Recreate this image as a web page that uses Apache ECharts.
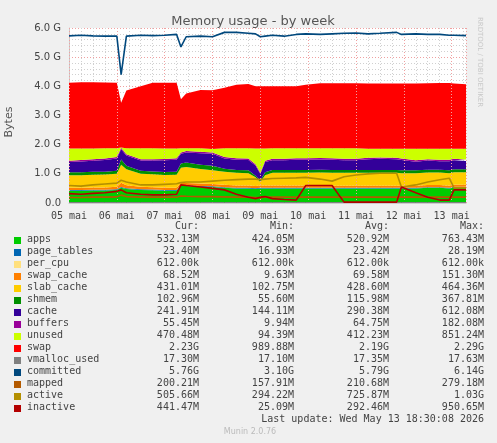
<!DOCTYPE html>
<html><head><meta charset="utf-8">
<script src="https://cdn.jsdelivr.net/npm/echarts@6/dist/echarts.min.js"></script>
<style>html,body{margin:0;padding:0;background:#F0F0F0}#c{width:497px;height:443px}</style>
</head><body><div id="c"></div>
<script>
const dayLabels = ['05 mai','06 mai','07 mai','08 mai','09 mai','10 mai','11 mai','12 mai','13 mai'];
const T = [0,0.25,0.5,0.75,1.0,1.09,1.2,1.5,1.75,2.0,2.25,2.34,2.45,2.75,3.0,3.25,3.5,3.75,3.9,4.0,4.1,4.25,4.5,4.75,4.95,5.25,5.5,5.75,6.0,6.25,6.5,6.85,6.95,7.25,7.5,7.75,7.95,8.05,8.3];
const apps = [0.42,0.42,0.43,0.43,0.45,0.52,0.48,0.45,0.44,0.42,0.42,0.6,0.58,0.56,0.55,0.52,0.5,0.5,0.48,0.5,0.5,0.5,0.5,0.5,0.5,0.5,0.5,0.5,0.5,0.5,0.5,0.5,0.5,0.5,0.52,0.52,0.5,0.53,0.53];
const page_tables = [0.022,0.022,0.022,0.023,0.023,0.025,0.024,0.023,0.023,0.022,0.022,0.025,0.024,0.024,0.024,0.023,0.023,0.023,0.022,0.02,0.022,0.023,0.023,0.023,0.023,0.023,0.023,0.023,0.023,0.023,0.023,0.023,0.023,0.023,0.023,0.023,0.023,0.023,0.023];
const per_cpu = [0.0006,0.0006,0.0006,0.0006,0.0006,0.0006,0.0006,0.0006,0.0006,0.0006,0.0006,0.0006,0.0006,0.0006,0.0006,0.0006,0.0006,0.0006,0.0006,0.0006,0.0006,0.0006,0.0006,0.0006,0.0006,0.0006,0.0006,0.0006,0.0006,0.0006,0.0006,0.0006,0.0006,0.0006,0.0006,0.0006,0.0006,0.0006,0.0006];
const swap_cache = [0.08,0.08,0.08,0.08,0.08,0.15,0.1,0.08,0.08,0.08,0.08,0.08,0.08,0.08,0.08,0.08,0.08,0.08,0.08,0.08,0.08,0.08,0.08,0.08,0.08,0.08,0.07,0.07,0.07,0.07,0.07,0.07,0.07,0.07,0.07,0.07,0.07,0.07,0.07];
const slab_cache = [0.43,0.43,0.44,0.44,0.45,0.62,0.55,0.45,0.44,0.44,0.45,0.5,0.55,0.5,0.47,0.45,0.43,0.42,0.3,0.12,0.35,0.43,0.43,0.43,0.43,0.44,0.44,0.44,0.44,0.44,0.44,0.44,0.43,0.43,0.43,0.43,0.43,0.43,0.43];
const shmem = [0.1,0.1,0.1,0.1,0.1,0.18,0.12,0.1,0.1,0.1,0.1,0.15,0.15,0.15,0.15,0.1,0.1,0.1,0.05,0.05,0.1,0.1,0.1,0.1,0.1,0.1,0.1,0.1,0.1,0.1,0.1,0.1,0.1,0.1,0.1,0.1,0.1,0.1,0.1];
const cache = [0.35,0.37,0.38,0.4,0.42,0.35,0.35,0.35,0.37,0.4,0.41,0.33,0.35,0.39,0.41,0.35,0.35,0.35,0.35,0.22,0.35,0.33,0.33,0.35,0.35,0.35,0.35,0.33,0.33,0.37,0.38,0.37,0.35,0.29,0.31,0.29,0.31,0.31,0.29];
const buffers = [0.05,0.05,0.05,0.05,0.05,0.05,0.05,0.05,0.05,0.05,0.05,0.05,0.05,0.05,0.05,0.05,0.05,0.05,0.05,0.05,0.05,0.05,0.05,0.05,0.05,0.05,0.05,0.05,0.05,0.05,0.05,0.05,0.05,0.05,0.05,0.05,0.05,0.05,0.05];
const unused = [0.42,0.40,0.37,0.35,0.30,0.01,0.20,0.37,0.37,0.36,0.34,0.14,0.09,0.12,0.12,0.30,0.34,0.35,0.54,0.83,0.42,0.36,0.36,0.34,0.34,0.33,0.34,0.36,0.36,0.31,0.30,0.31,0.34,0.40,0.36,0.38,0.38,0.35,0.37];
const swap = [2.25,2.27,2.27,2.26,2.25,1.53,1.98,2.13,2.25,2.25,2.25,1.68,1.88,2.0,2.01,2.08,2.18,2.21,2.13,2.13,2.13,2.13,2.13,2.13,2.18,2.23,2.23,2.23,2.23,2.23,2.23,2.23,2.23,2.23,2.24,2.25,2.25,2.23,2.21];
const vmalloc_used = [0.017,0.017,0.017,0.017,0.017,0.017,0.017,0.017,0.017,0.017,0.017,0.017,0.017,0.017,0.017,0.017,0.017,0.017,0.017,0.017,0.017,0.017,0.017,0.017,0.017,0.017,0.017,0.017,0.017,0.017,0.017,0.017,0.017,0.017,0.017,0.017,0.017,0.017,0.017];
const committed = [5.73,5.75,5.73,5.72,5.72,4.4,5.72,5.75,5.74,5.75,5.78,5.35,5.7,5.72,5.7,5.85,5.85,5.82,5.8,5.7,5.72,5.75,5.72,5.78,5.8,5.78,5.8,5.82,5.83,5.8,5.82,5.85,5.78,5.8,5.78,5.78,5.75,5.75,5.74];
const mapped = [0.19,0.19,0.2,0.2,0.21,0.27,0.22,0.2,0.2,0.2,0.2,0.24,0.23,0.22,0.22,0.21,0.2,0.2,0.19,0.18,0.2,0.2,0.2,0.2,0.2,0.2,0.2,0.2,0.2,0.2,0.2,0.2,0.2,0.2,0.2,0.2,0.2,0.2,0.2];
const active = [0.6,0.58,0.62,0.65,0.68,0.78,0.72,0.62,0.62,0.64,0.66,0.7,0.72,0.72,0.75,0.78,0.8,0.82,0.82,0.8,0.82,0.84,0.85,0.86,0.88,0.82,0.75,0.9,0.96,1.0,1.02,1.02,0.55,0.62,0.72,0.8,0.85,0.52,0.52];
const inactive = [0.32,0.3,0.33,0.35,0.4,0.45,0.35,0.3,0.28,0.28,0.3,0.62,0.6,0.55,0.5,0.45,0.3,0.2,0.15,0.2,0.22,0.15,0.12,0.1,0.6,0.6,0.6,0.03,0.03,0.03,0.03,0.03,0.55,0.35,0.2,0.1,0.1,0.45,0.45];

const names = ['apps','page_tables','per_cpu','swap_cache','slab_cache','shmem','cache','buffers','unused','swap','vmalloc_used','committed','mapped','active','inactive'];
const colors = ['#00CC00','#0066B3','#FFE07F','#FF8000','#FFCC00','#008F00','#330099','#990099','#CCFF00','#FF0000','#808080','#00487D','#B35A00','#B38F00','#B30000'];
const curV = ['532.13M','23.40M','612.00k','68.52M','431.01M','102.96M','241.91M','55.45M','470.48M','2.23G','17.30M','5.76G','200.21M','505.66M','441.47M'];
const minV = ['424.05M','16.93M','612.00k','9.63M','102.75M','55.60M','144.11M','9.94M','94.39M','989.88M','17.10M','3.10G','157.91M','294.22M','25.09M'];
const avgV = ['520.92M','23.42M','612.00k','69.58M','428.60M','115.98M','290.38M','64.75M','412.23M','2.19G','17.35M','5.79G','210.68M','725.87M','292.46M'];
const maxV = ['763.43M','28.19M','612.00k','151.30M','464.36M','367.81M','612.08M','182.08M','851.24M','2.29G','17.63M','6.14G','279.18M','1.03G','950.65M'];

const DAY = 86400000, T0 = Date.UTC(2026,4,5);
const vals = [apps,page_tables,per_cpu,swap_cache,slab_cache,shmem,cache,buffers,unused,swap,vmalloc_used,committed,mapped,active,inactive];
const series = names.map((n,i)=>{
  const d = T.map((t,k)=>[T0+t*DAY,vals[i][k]]);
  if(i<10) return {name:n,type:'line',stack:'mem',data:d,symbol:'none',lineStyle:{width:0},areaStyle:{color:colors[i],opacity:1},itemStyle:{color:colors[i]},z:2};
  return {name:n,type:'line',data:d,symbol:'none',lineStyle:{width:n==='vmalloc_used'?1:1.6,color:colors[i]},itemStyle:{color:colors[i]},z:3};
});

const mono = 'DejaVu Sans Mono';
const g = [];
const hdrY = 227, cols=[199,294,389,484], hdr=['Cur:','Min:','Avg:','Max:'];
hdr.forEach((h,j)=>g.push({type:'text',x:cols[j],y:hdrY-6,style:{text:h,font:'10px '+mono,fill:'#444',align:'right'}}));
names.forEach((n,i)=>{
  const y = 240+12*i;
  g.push({type:'rect',shape:{x:14,y:y-3,width:7,height:7},style:{fill:colors[i]}});
  g.push({type:'text',x:27,y:y-6,style:{text:n,font:'10px '+mono,fill:'#444'}});
  [curV,minV,avgV,maxV].forEach((arr,j)=>g.push({type:'text',x:cols[j],y:y-6,style:{text:arr[i],font:'10px '+mono,fill:'#444',align:'right'}}));
});
g.push({type:'text',x:484,y:414,style:{text:'Last update: Wed May 13 18:30:08 2026',font:'10px '+mono,fill:'#444',align:'right'}});
g.push({type:'text',x:250,y:428,style:{text:'Munin 2.0.76',font:'8px DejaVu Sans',fill:'#bbb',align:'center'}});
g.push({type:'text',x:4,y:122,rotation:Math.PI/2,style:{text:'Bytes',font:'11px DejaVu Sans',fill:'#555',align:'center'}});
g.push({type:'text',x:483,y:62,rotation:-Math.PI/2,style:{text:'RRDTOOL / TOBI OETIKER',font:'7px DejaVu Sans',fill:'#c8c8c8',align:'center'}});

const chart = echarts.init(document.getElementById('c'),null,{renderer:'canvas'});
chart.setOption({
  backgroundColor:'#F0F0F0',animation:false,
  title:{text:'Memory usage - by week',left:248,top:10,textAlign:'center',textStyle:{fontFamily:'DejaVu Sans',fontSize:13,fontWeight:'normal',color:'#555'}},
  grid:{left:69,right:31,top:28,bottom:240,backgroundColor:'#fff',show:true,borderWidth:0},
  xAxis:[{type:'time',min:T0,max:T0+8.3*DAY,interval:DAY,z:3,
    axisLine:{lineStyle:{color:'#ccc'}},axisTick:{show:false},
    axisLabel:{formatter:v=>dayLabels[Math.round((v-T0)/DAY)]||'',fontFamily:mono,fontSize:10,color:'#444',showMaxLabel:false,showMinLabel:true},
    splitLine:{show:true,lineStyle:{color:'#f0a0a0',type:[1,2],width:1}}},
   {type:'value',min:0,max:8.3,interval:0.25,position:'bottom',z:0,
    axisLine:{show:false},axisTick:{show:false},axisLabel:{show:false},
    splitLine:{show:true,lineStyle:{color:'#d0d0d0',type:[1,2],width:1}}}],
  yAxis:{type:'value',min:0,max:6,interval:1,
    axisLine:{show:true,lineStyle:{color:'#ccc'}},axisTick:{show:false},
    axisLabel:{formatter:v=>v===0?'0.0':v.toFixed(1)+' G',fontFamily:'DejaVu Sans',fontSize:10,color:'#444'},
    splitLine:{lineStyle:{color:'#f0a0a0',type:[1,2],width:1}},
    minorTick:{show:false,splitNumber:5},minorSplitLine:{show:true,lineStyle:{color:'#d0d0d0',type:[1,2]}}},
  series:series,
  graphic:g
});
</script></body></html>
